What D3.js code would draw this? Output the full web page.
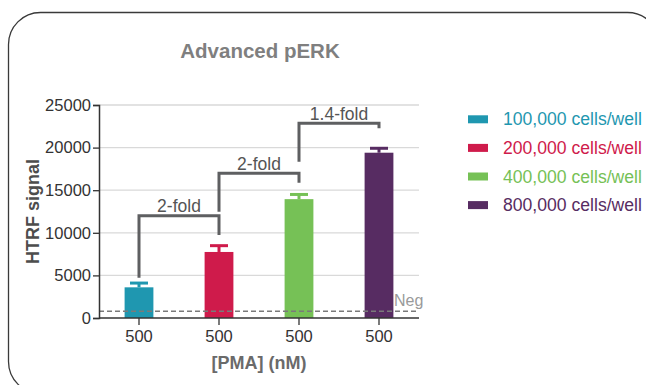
<!DOCTYPE html>
<html>
<head>
<meta charset="utf-8">
<script src="https://cdn.jsdelivr.net/npm/d3@7"></script>
<style>
  html, body { margin: 0; padding: 0; background: #fff; }
  svg { display: block; font-family: "Liberation Sans", Arial, sans-serif; }
</style>
</head>
<body>
<svg id="chart" width="646" height="385"></svg>
<script>
// Cell densities (one bar each), all stimulated with 500 nM PMA
const series = ["100,000 cells/well", "200,000 cells/well", "400,000 cells/well", "800,000 cells/well"];
const doses = ["500", "500", "500", "500"];
const means = [3600, 7750, 13950, 19400];
const errors = [500, 740, 550, 520];
const colors = ["#1f97b0", "#cf1b4b", "#76c156", "#572c62"];

// Negative control level
const negLevel = 800;

// Fold-change brackets between neighbouring bars
const foldLabels = ["2-fold", "2-fold", "1.4-fold"];
const foldFrom = [0, 1, 2];
const foldTo = [1, 2, 3];
const foldTop = [12000, 17000, 22850];
const foldLeftEnd = [4730, 12480, 18350];
const foldRightEnd = [9740, 15880, 22260];

const yTicks = [0, 5000, 10000, 15000, 20000, 25000];

const svg = d3.select("#chart");

// Rounded frame around the figure
svg.append("rect")
  .attr("x", 8.5).attr("y", 12.5)
  .attr("width", 651).attr("height", 381)
  .attr("rx", 32).attr("ry", 32)
  .attr("fill", "none")
  .attr("stroke", "#3a3a3a")
  .attr("stroke-width", 1.3);

const plot = { left: 99, right: 419, top: 105, bottom: 318 };

const x = d3.scaleBand()
  .domain(series)
  .range([plot.left, plot.right])
  .paddingInner(0.64)
  .paddingOuter(0.32);

const y = d3.scaleLinear()
  .domain([0, 25000])
  .range([plot.bottom, plot.top]);

const cx = i => x(series[i]) + x.bandwidth() / 2;

// Gridlines
svg.append("g")
  .selectAll("line")
  .data(yTicks.filter(t => t > 0))
  .join("line")
  .attr("x1", plot.left).attr("x2", plot.right)
  .attr("y1", d => y(d)).attr("y2", d => y(d))
  .attr("stroke", "#d9d9d9")
  .attr("stroke-width", 1.3);

// Bars
svg.append("g")
  .selectAll("rect")
  .data(means)
  .join("rect")
  .attr("x", (d, i) => x(series[i]))
  .attr("y", d => y(d))
  .attr("width", x.bandwidth())
  .attr("height", d => y(0) - y(d))
  .attr("fill", (d, i) => colors[i]);

// Upper error bars
const eb = svg.append("g");
means.forEach((m, i) => {
  eb.append("line")
    .attr("x1", cx(i)).attr("x2", cx(i))
    .attr("y1", y(m)).attr("y2", y(m + errors[i]))
    .attr("stroke", colors[i]).attr("stroke-width", 3);
  eb.append("line")
    .attr("x1", cx(i) - 9).attr("x2", cx(i) + 9)
    .attr("y1", y(m + errors[i])).attr("y2", y(m + errors[i]))
    .attr("stroke", colors[i]).attr("stroke-width", 3);
});

// Negative control line
svg.append("line")
  .attr("x1", plot.left).attr("x2", plot.right)
  .attr("y1", y(negLevel)).attr("y2", y(negLevel))
  .attr("stroke", "#7a7a7a")
  .attr("stroke-width", 1.5)
  .attr("stroke-dasharray", "5,3");
svg.append("text")
  .attr("x", 394).attr("y", y(negLevel) - 5)
  .attr("font-size", 16)
  .attr("fill", "#9a9a9a")
  .text("Neg");

// Y axis
const yAxis = svg.append("g")
  .attr("transform", `translate(${plot.left},0)`)
  .call(d3.axisLeft(y).tickValues(yTicks).tickSize(6).tickPadding(2).tickFormat(d3.format("d")));
yAxis.select(".domain").attr("stroke", "#333").attr("stroke-width", 1.5);
yAxis.selectAll(".tick line").attr("stroke", "#333").attr("stroke-width", 1.3);
yAxis.selectAll(".tick text")
  .attr("font-size", 16.5).attr("fill", "#333")
  .attr("font-family", "Liberation Sans, Arial, sans-serif");

// X axis
const xAxis = svg.append("g")
  .attr("transform", `translate(0,${plot.bottom})`)
  .call(d3.axisBottom(x).tickSize(7).tickPadding(5).tickFormat((d, i) => doses[i]));
xAxis.select(".domain")
  .attr("d", `M${plot.left},0H${plot.right}`)
  .attr("stroke", "#333").attr("stroke-width", 1.5);
xAxis.selectAll(".tick line").attr("stroke", "#333").attr("stroke-width", 1.3);
xAxis.selectAll(".tick text")
  .attr("font-size", 16.5).attr("fill", "#333")
  .attr("font-family", "Liberation Sans, Arial, sans-serif");

// Fold-change brackets
const br = svg.append("g");
foldLabels.forEach((lab, k) => {
  const x1 = cx(foldFrom[k]), x2 = cx(foldTo[k]);
  br.append("path")
    .attr("d", `M${x1},${y(foldLeftEnd[k])}V${y(foldTop[k])}H${x2}V${y(foldRightEnd[k])}`)
    .attr("fill", "none")
    .attr("stroke", "#5e5f61")
    .attr("stroke-width", 3);
  br.append("text")
    .attr("x", (x1 + x2) / 2)
    .attr("y", y(foldTop[k]) - 3.5)
    .attr("text-anchor", "middle")
    .attr("font-size", 17.5)
    .attr("fill", "#555")
    .text(lab);
});

// Titles
svg.append("text")
  .attr("x", 260).attr("y", 58)
  .attr("text-anchor", "middle")
  .attr("font-size", 20.5).attr("font-weight", "bold")
  .attr("fill", "#7f7f7f")
  .text("Advanced pERK");

svg.append("text")
  .attr("x", 259).attr("y", 369)
  .attr("text-anchor", "middle")
  .attr("font-size", 18).attr("font-weight", "bold")
  .attr("fill", "#6a6a6a")
  .text("[PMA] (nM)");

svg.append("text")
  .attr("transform", `translate(39,${(plot.top + plot.bottom) / 2}) rotate(-90)`)
  .attr("text-anchor", "middle")
  .attr("font-size", 18).attr("font-weight", "bold")
  .attr("fill", "#4d4d4d")
  .text("HTRF signal");

// Legend
const lg = svg.append("g");
series.forEach((s, i) => {
  const ly = 119.3 + i * 28.6;
  lg.append("rect")
    .attr("x", 468).attr("y", ly - 4)
    .attr("width", 20).attr("height", 8)
    .attr("fill", colors[i]);
  lg.append("text")
    .attr("x", 503).attr("y", ly + 6)
    .attr("font-size", 17.6)
    .attr("fill", colors[i])
    .text(s);
});
</script>
</body>
</html>
